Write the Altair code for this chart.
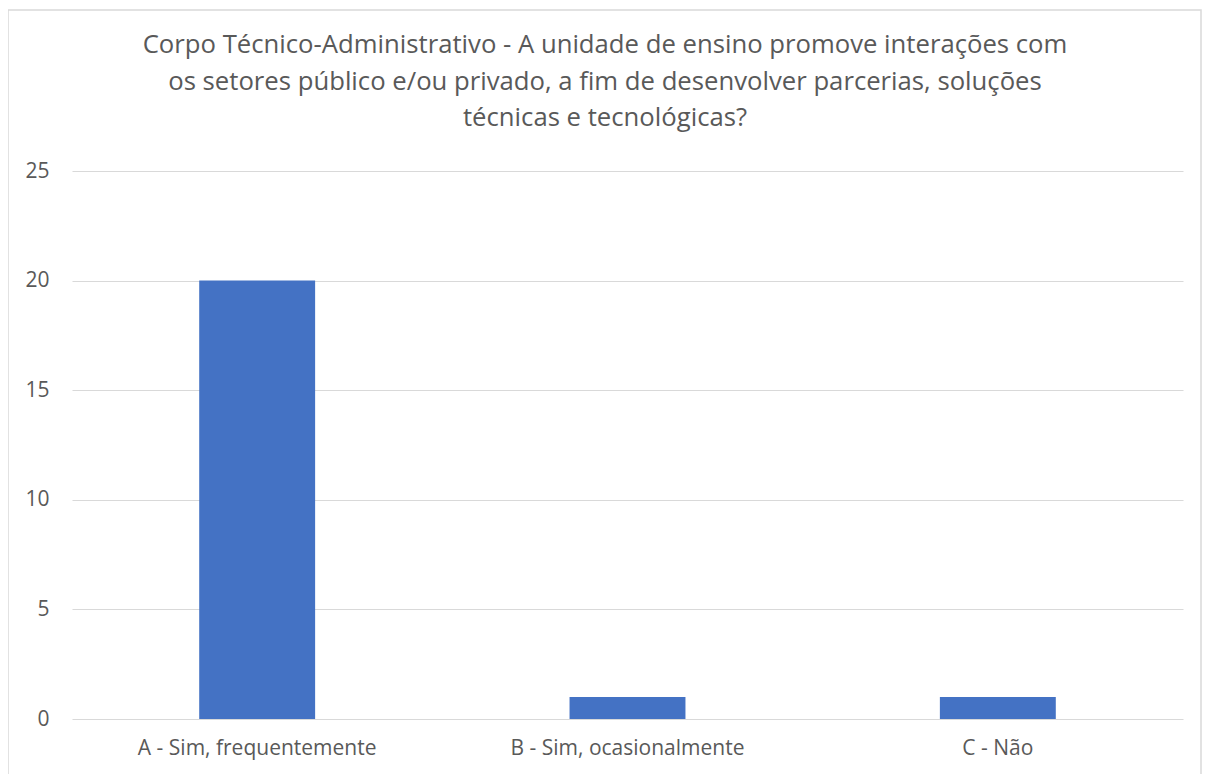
import altair as alt
import pandas as pd

CATEGORIES = ["A - Sim, frequentemente", "B - Sim, ocasionalmente", "C - Não"]
VALUES = [20, 1, 1]
Y_TICKS = [0, 5, 10, 15, 20, 25]
TITLE_LINES = [
    "Corpo Técnico-Administrativo - A unidade de ensino promove interações com",
    "os setores público e/ou privado, a fim de desenvolver parcerias, soluções",
    "técnicas e tecnológicas?",
]

FONT = "Open Sans"
GRAY = "#595959"
GRID = "#d9d9d9"

df = pd.DataFrame({"cat": CATEGORIES, "val": VALUES})

bars = alt.Chart(df).mark_bar(color="#4472C4").encode(
    x=alt.X(
        "cat:N",
        sort=CATEGORIES,
        scale=alt.Scale(paddingInner=0.687, paddingOuter=0.3435),
        axis=alt.Axis(
            title=None, labelAngle=0, domain=False, ticks=False, labelLimit=500,
            labelFont=FONT, labelFontSize=21, labelColor=GRAY, labelPadding=18,
        ),
    ),
    y=alt.Y(
        "val:Q",
        scale=alt.Scale(domain=[0, 25], nice=False),
        axis=alt.Axis(
            title=None, values=Y_TICKS, domain=False, ticks=False,
            grid=True, gridColor=GRID, gridWidth=1,
            labelFont=FONT, labelFontSize=21, labelColor=GRAY, labelPadding=23,
        ),
    ),
)

title = alt.Chart(pd.DataFrame({"t": ["\n".join(TITLE_LINES)]})).mark_text(
    lineBreak="\n", lineHeight=36.5, baseline="alphabetic", align="center",
    font=FONT, fontSize=25.7, color=GRAY,
).encode(x=alt.value(533), y=alt.value(-118), text="t:N")

border = alt.Chart(pd.DataFrame({"b": [0]})).mark_rect(
    fill="transparent", stroke=GRID, strokeWidth=1.5,
).encode(x=alt.value(-64), x2=alt.value(1129), y=alt.value(-161), y2=alt.value(700))

chart = alt.layer(border, bars, title).properties(
    width=1111, height=548,
    autosize=alt.AutoSizeParams(type="none"),
    padding={"left": 64, "top": 163, "right": 22, "bottom": 55},
).configure_view(stroke=None)

chart.save("out.html", embed_options={"renderer": "svg", "actions": False})
